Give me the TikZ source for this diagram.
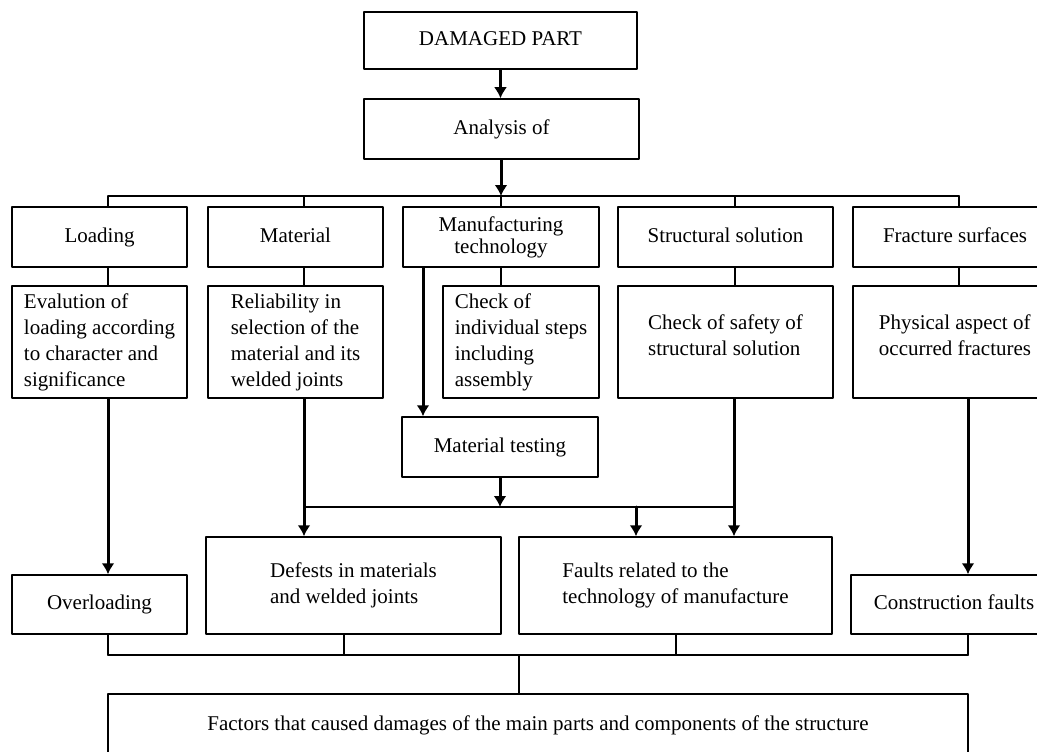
\documentclass[tikz,border=0pt]{standalone}
\usepackage{fontspec}
\setmainfont{Liberation Serif}
\usetikzlibrary{arrows.meta}
\tikzset{
	box/.style  = {draw, line width=1.5pt, inner sep=0pt, align=left,
	               font=\fontsize{21}{26}\selectfont},
	one/.style  = {text height=14.5pt, text depth=4.5pt},
	link/.style = {line width=1.5pt},
	feed/.style = {line width=3pt, ->},
}
\begin{document}
\begin{tikzpicture}[
		x = 1pt,
		y = -1pt,
		line join = round,
		line cap = round,
		> = {Latex[length=11pt,width=13pt]},
		]
\useasboundingbox	(0,0) rectangle (1037,752);
\clip			(0,0) rectangle (1037,752);

% top of the scheme
\node[box, one, minimum width=273pt, minimum height=57pt]	(dam) at (500.5,40.5)	{DAMAGED PART};
\node[box, one, minimum width=275pt, minimum height=60pt]	(ana) at (501.5,129)	{Analysis of};

% what is analysed
\node[box, one, minimum width=175pt, minimum height=60pt]	(load) at (99.5,237)	{Loading};
\node[box, one, minimum width=175pt, minimum height=60pt]	(mat) at (295.5,237)	{Material};
\node[box, minimum width=196pt, minimum height=60pt, align=center,
      font=\fontsize{21}{22}\selectfont]			(mfg) at (501,237)	{Manufacturing\\technology};
\node[box, one, minimum width=215pt, minimum height=60pt]	(str) at (725.5,237)	{Structural solution};
\node[box, one, minimum width=204pt, minimum height=60pt]	(fra) at (955,237)	{Fracture surfaces};

\node[box, minimum width=175pt, minimum height=112pt]	(eva) at (99.5,342)
	{Evalution of\\loading according\\to character and\\significance};
\node[box, minimum width=175pt, minimum height=112pt]	(rel) at (295.5,342)
	{Reliability in\\selection of the\\material and its\\welded joints};
\node[box, minimum width=156pt, minimum height=112pt]	(chk) at (521,342)
	{Check of\\individual steps\\including\\assembly};
\node[box, minimum width=215pt, minimum height=112pt]	(saf) at (725.5,342)
	{Check of safety of\\structural solution\\[-12pt]};
\node[box, minimum width=204pt, minimum height=112pt]	(phy) at (955,342)
	{Physical aspect of\\occurred fractures\\[-12pt]};
\node[box, one, minimum width=196pt, minimum height=60pt]	(mtt) at (500,447)	{Material testing};

% faults found
\node[box, one, minimum width=175pt, minimum height=59pt]	(ovl) at (99.5,604.5)	{Overloading};
\node[box, minimum width=295pt, minimum height=97pt]	(def) at (353.5,585.5)
	{Defests in materials\\and welded joints};
\node[box, minimum width=313pt, minimum height=97pt]	(fau) at (675.5,585.5)
	{Faults related to the\\technology of manufacture};
\node[box, one, minimum width=206pt, minimum height=59pt]	(con) at (954,604.5)	{Construction faults};
\node[box, one, minimum width=860pt, minimum height=62pt]	(fac) at (538,725)
	{Factors that caused damages of the main parts and components of the structure};

% channels
\coordinate (b1) at (108,196);	\coordinate (b2) at (304,196);
\coordinate (b3) at (501,196);	\coordinate (b4) at (735,196);
\coordinate (b5) at (959,196);
\coordinate (tap) at (423,267);
\coordinate (j1) at (304,507);	\coordinate (j2) at (734,507);
\coordinate (j3) at (636,507);
\coordinate (d0) at (519,655);	\coordinate (d1) at (108,655);
\coordinate (d2) at (344,655);	\coordinate (d3) at (676,655);
\coordinate (d4) at (968,655);

\draw[feed]	(dam.south) -- (dam.south |- ana.north);
\draw[feed]	(ana.south -| b3) -- (b3);
\draw[link]	(b1) -- (b5);
\foreach \b/\n/\m in {b1/load/eva, b2/mat/rel, b3/mfg/chk, b4/str/saf, b5/fra/phy}{
	\draw[link]	(\b) -- (\b |- \n.north);
	\draw[link]	(\b |- \n.south) -- (\b |- \m.north);
}

\draw[feed]	(d1 |- eva.south) -- (d1 |- ovl.north);
\draw[feed]	(j1 |- rel.south) -- (j1 |- def.north);
\draw[feed]	(tap |- mfg.south) -- (tap |- mtt.north);
\draw[feed]	(mtt.south) -- (mtt.south |- j1);
\draw[link]	(j1) -- (j2);
\draw[feed]	(j3) -- (j3 |- fau.north);
\draw[feed]	(j2 |- saf.south) -- (j2 |- fau.north);
\draw[feed]	(d4 |- phy.south) -- (d4 |- con.north);

\draw[link]	(d1) -- (d4);
\foreach \d/\n in {d1/ovl, d2/def, d3/fau, d4/con}
	\draw[link]	(\d |- \n.south) -- (\d);
\draw[link]	(d0) -- (d0 |- fac.north);
\end{tikzpicture}
\end{document}
